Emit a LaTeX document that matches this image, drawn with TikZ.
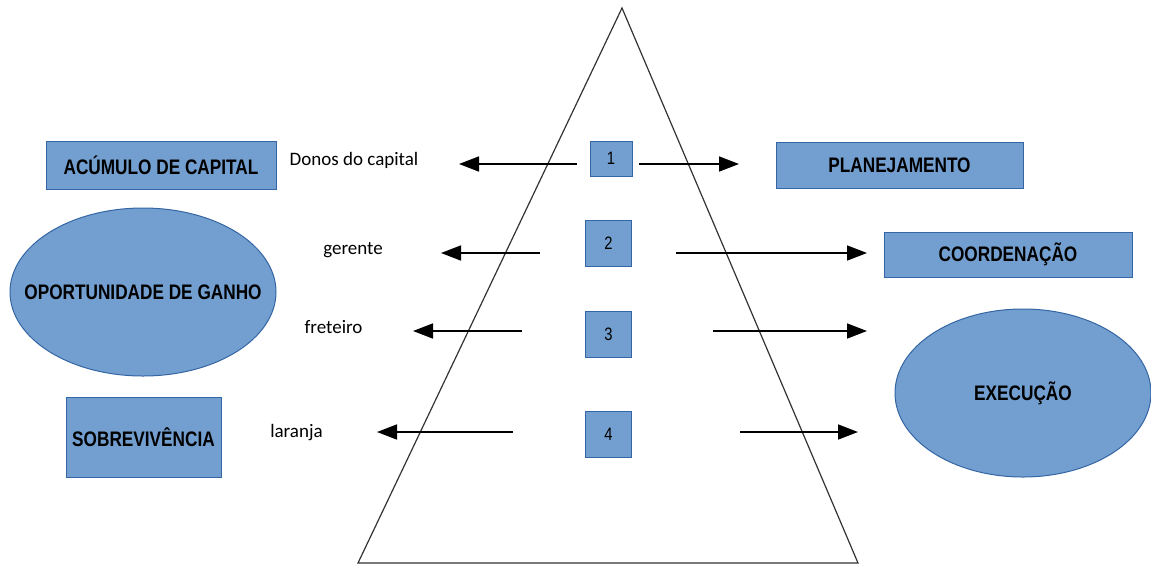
\documentclass[tikz,border=0pt]{standalone}
\usepackage{fontspec}
\setmainfont{Carlito}
\newfontfamily\narrowfont{Liberation Sans}[FakeStretch=0.82]
\usetikzlibrary{positioning}
\usetikzlibrary{arrows.meta}
\usetikzlibrary{shapes.geometric}

\definecolor{boxfill}{HTML}{729FCF}
\definecolor{boxline}{HTML}{3465A4}

\tikzset{
  blue box/.style={draw=boxline, fill=boxfill, line width=1pt, inner sep=0pt,
    font=\narrowfont\bfseries\fontsize{21}{24}\selectfont},
  blue oval/.style={blue box, ellipse},
  num box/.style={draw=boxline, fill=boxfill, line width=1pt, inner sep=0pt,
    minimum width=46pt, minimum height=46pt, font=\narrowfont\fontsize{18}{20}\selectfont},
  role/.style={font=\fontsize{19}{22}\selectfont},
  side arrow/.style={-{Triangle[length=20pt,width=15pt]}, line width=1.6pt}
}

\begin{document}
\begin{tikzpicture}[x=1pt, y=-1pt]
			\useasboundingbox (0,0) rectangle (1151,566);
			
			% pyramid
			\coordinate (top) at (622,8);
			\coordinate (bl) at (358,563);
			\coordinate (br) at (858,563);
			\draw[line width=1.2pt, black!80] (top) -- (bl) -- (br) -- cycle;
			
			% levels
			\node[num box, minimum width=42pt, minimum height=35pt] (n1) at (611,158.5) {1};
			\node[num box, below = 43pt of n1, xshift=-2.5pt] (n2) {2};
			\node[num box, below = 44pt of n2] (n3) {3};
			\node[num box, below = 53pt of n3] (n4) {4};
			
			% left side
			\node[blue box, minimum width=230pt, minimum height=48pt] (capital) at (161,165) {ACÚMULO DE CAPITAL};
			\node[blue oval, minimum width=266pt, minimum height=168pt] (ganho) at (143,292) {\makebox[0pt]{OPORTUNIDADE DE GANHO}};
			\node[blue box, minimum width=155pt, minimum height=80pt] (sobrev) at (143.5,437) {SOBREVIVÊNCIA};
			
			\node[role] (donos) at (354,160) {Donos do capital};
			\node[role] (gerente) at (353,250) {gerente};
			\node[role] (freteiro) at (333.5,327) {freteiro};
			\node[role] (laranja) at (296.5,433) {laranja};
			
			% right side
			\node[blue box, minimum width=247pt, minimum height=46pt] (plan) at (899.5,165) {PLANEJAMENTO};
			\node[blue box, minimum width=248pt, minimum height=45pt] (coord) at (1008,254.5) {COORDENAÇÃO};
			\node[blue oval, minimum width=256pt, minimum height=168pt] (exec) at (1023,393) {\makebox[0pt]{EXECUÇÃO}};
			
			% arrows
			\coordinate (l1a) at (577,164);
			\coordinate (l1b) at (459,164);
			\coordinate (r1a) at (639,164);
			\coordinate (r1b) at (739,164);
			\coordinate (l2a) at (540,253);
			\coordinate (l2b) at (441,253);
			\coordinate (r2a) at (676,253);
			\coordinate (r2b) at (867,253);
			\coordinate (l3a) at (522,331);
			\coordinate (l3b) at (413,331);
			\coordinate (r3a) at (713,331);
			\coordinate (r3b) at (867,331);
			\coordinate (l4a) at (513,432);
			\coordinate (l4b) at (377,432);
			\coordinate (r4a) at (740,432);
			\coordinate (r4b) at (858,432);
			
			\draw[side arrow] (l1a) -- (l1b);
			\draw[side arrow] (r1a) -- (r1b);
			\draw[side arrow] (l2a) -- (l2b);
			\draw[side arrow] (r2a) -- (r2b);
			\draw[side arrow] (l3a) -- (l3b);
			\draw[side arrow] (r3a) -- (r3b);
			\draw[side arrow] (l4a) -- (l4b);
			\draw[side arrow] (r4a) -- (r4b);
\end{tikzpicture}
\end{document}
